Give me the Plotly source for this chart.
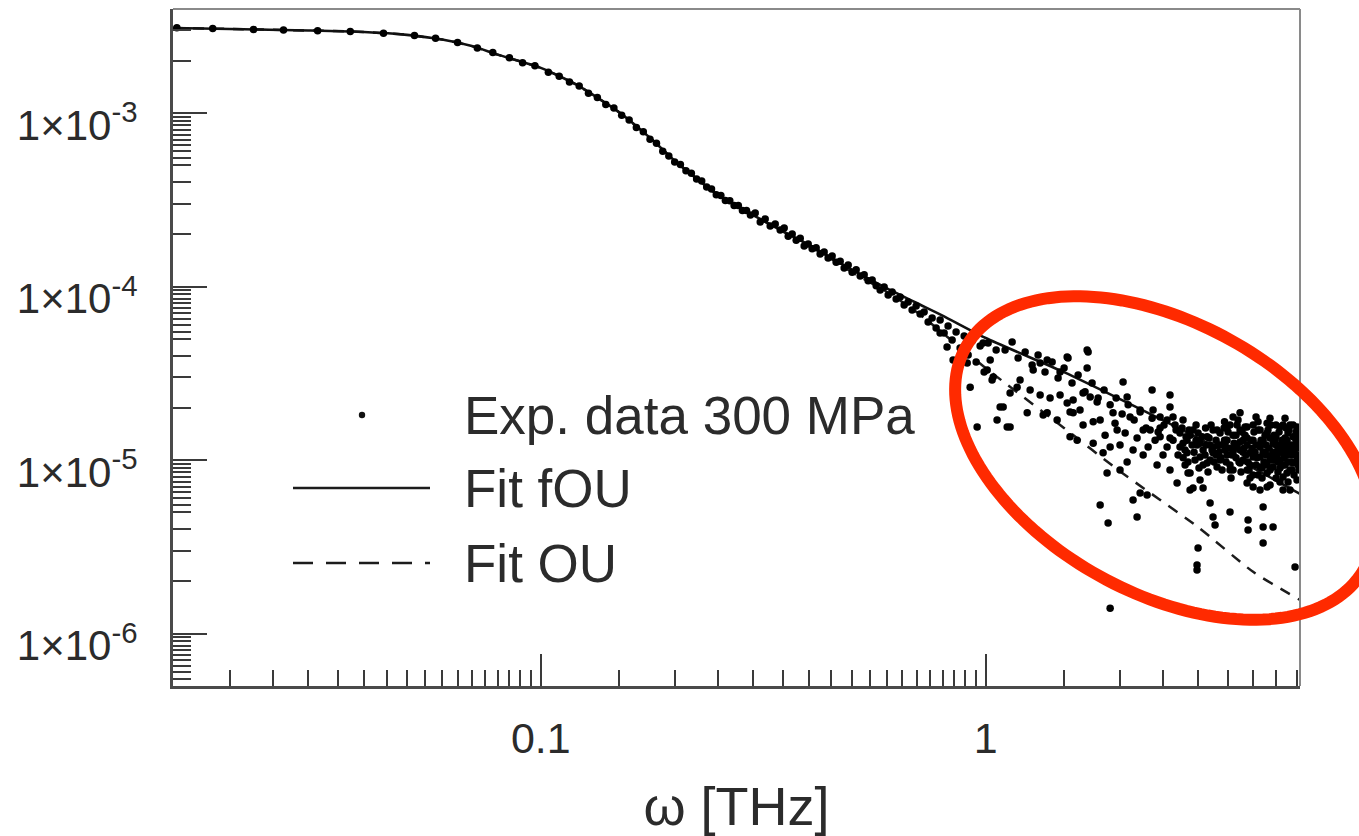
import numpy as np
import plotly.graph_objects as go

# ---------------- data ----------------
# fit curves
fit_w = [0.0149, 0.02, 0.03, 0.04, 0.05, 0.06, 0.07, 0.08, 0.1, 0.12, 0.15, 0.18, 0.2, 0.25,
         0.3, 0.35, 0.4, 0.5, 0.6, 0.7, 0.8, 1.0, 1.5, 2.0, 3.0, 4.0, 5.09]
fit_fou = [3.09e-3, 3.05e-3, 2.99e-3, 2.93e-3, 2.82e-3, 2.65e-3, 2.43e-3, 2.17e-3, 1.82e-3,
           1.46e-3, 1.01e-3, 6.83e-4, 5.30e-4, 3.38e-4, 2.58e-4, 2.08e-4, 1.74e-4, 1.25e-4,
           9.76e-5, 8.03e-5, 6.80e-5, 5.05e-5, 3.21e-5, 2.25e-5, 1.34e-5, 8.99e-6, 6.37e-6]
fit_ou = [3.09e-3, 3.05e-3, 2.99e-3, 2.93e-3, 2.82e-3, 2.65e-3, 2.43e-3, 2.17e-3, 1.82e-3,
          1.46e-3, 1.01e-3, 6.83e-4, 5.30e-4, 3.38e-4, 2.58e-4, 2.08e-4, 1.74e-4, 1.21e-4,
          9.30e-5, 7.13e-5, 5.40e-5, 3.39e-5, 1.53e-5, 8.64e-6, 4.11e-6, 2.26e-6, 1.56e-6]

# experimental data, low frequency part
low_w = [0.0152, 0.0183, 0.0226, 0.0264, 0.0315, 0.0373, 0.0443, 0.052, 0.058, 0.065,
         0.072, 0.078, 0.085, 0.091, 0.097, 0.104, 0.110, 0.116, 0.122, 0.128,
         0.134, 0.140, 0.146, 0.152, 0.158, 0.164, 0.170, 0.176, 0.182, 0.188,
         0.194, 0.200, 0.206, 0.212, 0.218, 0.224, 0.230, 0.236, 0.242, 0.248,
         0.254, 0.260, 0.266, 0.272, 0.278, 0.284, 0.290, 0.296]
low_s = [3.10e-3, 3.07e-3, 3.03e-3, 3.01e-3, 2.98e-3, 2.95e-3, 2.88e-3, 2.80e-3, 2.70e-3, 2.55e-3,
         2.37e-3, 2.23e-3, 2.08e-3, 1.95e-3, 1.87e-3, 1.72e-3, 1.63e-3, 1.51e-3, 1.43e-3, 1.30e-3,
         1.23e-3, 1.12e-3, 1.07e-3, 9.70e-4, 9.10e-4, 8.25e-4, 7.80e-4, 7.05e-4, 6.70e-4, 6.02e-4,
         5.66e-4, 5.22e-4, 5.05e-4, 4.64e-4, 4.50e-4, 4.17e-4, 4.05e-4, 3.74e-4, 3.65e-4, 3.38e-4,
         3.35e-4, 3.13e-4, 3.12e-4, 2.93e-4, 2.93e-4, 2.74e-4, 2.74e-4, 2.58e-4]

# experimental data, 0.3 - 1 THz band
mid_w = [0.3034, 0.3114, 0.3195, 0.3279, 0.3365, 0.3453, 0.3525, 0.3599, 0.3674, 0.3751,
         0.3830, 0.3909, 0.3991, 0.4074, 0.4159, 0.4246, 0.4335, 0.4425, 0.4518, 0.4613,
         0.4710, 0.4808, 0.4909, 0.5011, 0.5116, 0.5224, 0.5333, 0.5444, 0.5558, 0.5675,
         0.5793, 0.5914, 0.6038, 0.6164, 0.6293, 0.6425, 0.6559, 0.6696, 0.6836, 0.6979,
         0.7125, 0.7273, 0.7426, 0.7581, 0.7739, 0.7901, 0.8066, 0.8234, 0.8407, 0.8582,
         0.8762, 0.8950, 0.9135, 0.9326, 0.9521, 0.9719, 0.9922, 1.013, 1.034, 1.056]
mid_s = [2.65e-4, 2.35e-4, 2.45e-4, 2.23e-4, 2.29e-4, 2.12e-4, 2.17e-4, 1.95e-4, 2.01e-4, 1.85e-4,
         1.90e-4, 1.71e-4, 1.76e-4, 1.65e-4, 1.67e-4, 1.54e-4, 1.58e-4, 1.46e-4, 1.50e-4, 1.38e-4,
         1.40e-4, 1.28e-4, 1.33e-4, 1.21e-4, 1.25e-4, 1.15e-4, 1.17e-4, 1.08e-4, 1.09e-4, 1.01e-4,
         9.55e-5, 9.93e-5, 8.93e-5, 9.30e-5, 8.47e-5, 8.70e-5, 7.82e-5, 8.14e-5, 7.32e-5, 7.72e-5,
         6.94e-5, 7.13e-5, 6.24e-5, 6.58e-5, 5.76e-5, 6.41e-5, 5.40e-5, 5.92e-5, 4.92e-5, 5.47e-5,
         4.42e-5, 5.19e-5, 4.03e-5, 4.85e-5, 3.67e-5, 4.54e-5, 3.21e-5, 4.72e-5, 2.89e-5, 4.31e-5]

# experimental data, points hugging the fOU line 1.1 - 2.7 THz
line_w = [1.106, 1.147, 1.183, 1.227, 1.272, 1.312, 1.360, 1.411, 1.455, 1.501,
          1.564, 1.614, 1.673, 1.735, 1.790, 1.846, 1.905, 1.965, 2.027, 2.091,
          2.157, 2.225, 2.295, 2.367, 2.442, 2.518, 2.597, 2.680, 2.735, 2.343]
line_s = [4.31e-5, 4.79e-5, 3.87e-5, 4.19e-5, 3.53e-5, 4.03e-5, 3.22e-5, 3.67e-5, 2.97e-5, 3.39e-5,
          2.78e-5, 3.09e-5, 2.47e-5, 2.78e-5, 2.28e-5, 2.53e-5, 2.08e-5, 2.28e-5, 1.84e-5, 2.08e-5,
          1.70e-5, 1.94e-5, 1.53e-5, 1.74e-5, 1.45e-5, 1.59e-5, 1.34e-5, 1.49e-5, 1.19e-5, 1.49e-5]

# experimental data, 0.8 - 2.6 THz scatter
scat_w = [0.790, 0.819, 0.845, 0.909, 0.923, 0.957, 0.987, 1.024, 1.008, 1.040,
          1.078, 1.061, 1.118, 1.135, 1.177, 1.240, 1.195, 1.326, 1.375, 1.375,
          1.525, 1.691, 1.691, 1.525, 1.573,
          1.700, 1.532, 1.279, 1.470, 2.037, 2.080, 2.367, 2.597, 2.597, 1.347,
          1.135, 1.095, 1.548, 1.573, 1.656, 1.718, 1.781, 1.745, 1.809, 1.954,
          1.975, 1.548, 1.606, 1.745, 1.837, 1.905, 2.190, 2.145, 2.260, 2.319,
          2.379, 2.467, 2.558, 2.638]
scat_s = [5.40e-5, 4.48e-5, 3.77e-5, 3.62e-5, 2.63e-5, 1.55e-5, 4.72e-5, 3.77e-5, 3.30e-5, 3.01e-5,
          2.02e-5, 1.70e-5, 1.55e-5, 2.43e-5, 2.63e-5, 1.87e-5, 2.89e-5, 3.62e-5, 3.77e-5, 1.87e-5,
          3.92e-5, 4.31e-5, 3.39e-5, 2.13e-5, 1.87e-5,
          4.19e-5, 3.87e-5, 3.30e-5, 3.22e-5, 2.82e-5, 2.31e-5, 2.53e-5, 2.37e-5, 2.02e-5, 1.82e-5,
          1.55e-5, 2.02e-5, 1.89e-5, 2.22e-5, 2.43e-5, 2.31e-5, 2.16e-5, 1.66e-5, 1.70e-5, 1.63e-5,
          1.49e-5, 1.36e-5, 1.30e-5, 1.25e-5, 1.10e-5, 1.19e-5, 1.34e-5, 1.14e-5, 1.07e-5, 1.19e-5,
          1.94e-5, 1.77e-5, 1.70e-5, 1.77e-5]

# experimental data, cluster 2.4 - 5 THz
clus_w = [2.735, 2.836, 2.926, 3.034, 3.147, 3.245, 3.365, 3.489, 3.599, 3.732,
          3.870, 3.993, 4.140, 4.293, 4.428, 4.590, 4.759, 4.910, 5.038, 5.012,
          4.834, 4.293, 3.034, 3.147, 3.245, 3.365, 3.599, 3.732, 3.870, 3.993,
          4.140, 4.293, 4.428, 4.590, 4.759, 4.910, 5.012, 2.881, 3.034, 2.881,
          3.082, 3.870, 3.993, 4.293, 4.662, 2.836, 2.778, 2.638, 2.558, 2.467,
          3.489, 3.599, 3.732, 3.870, 3.993, 4.140, 4.428, 4.590, 4.759, 4.910,
          4.834, 5.012, 3.245, 3.365, 3.489, 3.599, 3.732, 4.140, 4.495, 4.662,
          3.791, 4.097, 4.358, 3.931, 3.543, 3.313, 3.082, 2.956, 2.808, 2.708,
          2.666, 2.778, 2.467, 2.404, 2.260, 2.059, 2.005, 2.112, 2.225, 1.934,
          1.856, 1.656, 1.630, 1.470, 1.448, 1.396, 1.326, 1.259, 2.005, 2.080,
          2.429, 2.505, 2.597, 2.694,
          3.830, 3.931, 4.054, 4.097, 4.205, 4.249, 4.358, 4.473, 4.495, 4.662,
          4.710, 4.784, 4.885, 4.961, 5.038, 5.038, 4.710, 4.358, 4.054, 3.675,
          3.675, 3.444, 3.444, 3.196, 3.122, 2.987, 2.881, 4.662, 4.541, 3.791,
          3.543, 3.452]
clus_s = [1.43e-5, 1.30e-5, 1.49e-5, 1.25e-5, 1.36e-5, 1.19e-5, 1.43e-5, 1.55e-5, 1.77e-5, 1.87e-5,
          1.55e-5, 1.30e-5, 1.19e-5, 1.43e-5, 1.25e-5, 1.55e-5, 1.30e-5, 1.14e-5, 1.19e-5, 1.55e-5,
          1.59e-5, 1.63e-5, 1.04e-5, 9.61e-6, 1.10e-5, 1.00e-5, 1.10e-5, 9.61e-6, 8.76e-6, 1.04e-5,
          9.11e-6, 8.41e-6, 9.11e-6, 1.00e-5, 8.41e-6, 9.61e-6, 7.67e-6, 8.41e-6, 7.67e-6, 6.72e-6,
          6.90e-6, 7.37e-6, 6.99e-6, 6.99e-6, 7.98e-6, 1.10e-5, 1.25e-5, 1.30e-5, 1.19e-5, 1.36e-5,
          1.30e-5, 1.39e-5, 1.49e-5, 1.22e-5, 1.59e-5, 1.49e-5, 1.11e-5, 1.22e-5, 1.07e-5, 1.36e-5,
          8.76e-6, 1.00e-5, 1.49e-5, 1.22e-5, 1.07e-5, 8.76e-6, 1.14e-5, 1.04e-5, 1.36e-5, 1.59e-5,
          1.30e-5, 8.19e-6, 1.00e-5, 1.10e-5, 1.59e-5, 9.11e-6, 1.14e-5, 1.00e-5, 9.36e-6, 1.07e-5,
          1.59e-5, 1.70e-5, 1.53e-5, 1.30e-5, 1.49e-5, 1.43e-5, 1.22e-5, 1.77e-5, 1.89e-5, 1.87e-5,
          1.39e-5, 1.59e-5, 1.94e-5, 2.37e-5, 1.70e-5, 2.28e-5, 2.37e-5, 2.53e-5, 8.76e-6, 9.74e-6,
          9.36e-6, 1.07e-5, 8.76e-6, 7.37e-6,
          1.39e-5, 9.36e-6, 1.22e-5, 1.49e-5, 1.30e-5, 1.11e-5, 1.34e-5, 1.00e-5, 1.59e-5, 1.14e-5,
          9.36e-6, 1.43e-5, 1.07e-5, 1.22e-5, 9.36e-6, 1.39e-5, 1.74e-5, 1.74e-5, 1.77e-5, 1.59e-5,
          1.22e-5, 1.30e-5, 1.66e-5, 1.22e-5, 1.53e-5, 1.22e-5, 1.39e-5, 6.72e-6, 8.53e-6, 1.00e-5,
          9.36e-6, 1.14e-5]

# experimental data, densest part 2.7 - 5 THz
dense_w = [2.764, 2.807, 2.851, 2.911, 2.972, 3.018, 3.066, 3.114, 3.162, 3.212,
           3.262, 3.296, 3.348, 3.400, 3.436, 3.471, 3.526, 3.562, 3.618, 3.655,
           3.693, 3.751, 3.790, 3.830, 3.889, 3.950, 3.991, 4.033, 4.096, 4.160,
           4.182, 4.225, 4.269, 4.314, 4.359, 4.404, 4.450, 4.496, 4.543, 4.590,
           4.638, 4.686, 4.735, 4.784, 4.809, 4.859, 4.910, 4.935, 4.986, 5.038,
           5.064, 5.038, 4.735, 4.496, 4.269, 4.054, 3.849, 3.655, 3.471, 3.296,
           3.130, 2.972, 2.822, 4.834, 4.590, 4.359, 4.139, 3.930]
dense_s = [1.53e-5, 1.14e-5, 9.74e-6, 1.22e-5, 1.59e-5, 8.99e-6, 1.36e-5, 1.07e-5, 8.53e-6, 1.59e-5,
           9.74e-6, 1.30e-5, 1.11e-5, 8.76e-6, 1.53e-5, 9.74e-6, 1.17e-5, 7.88e-6, 1.25e-5, 1.03e-5,
           1.70e-5, 8.53e-6, 1.11e-5, 1.55e-5, 9.74e-6, 1.30e-5, 8.19e-6, 1.11e-5, 1.66e-5, 1.30e-5,
           7.88e-6, 9.74e-6, 1.22e-5, 1.49e-5, 8.76e-6, 1.07e-5, 1.39e-5, 7.88e-6, 1.14e-5, 8.99e-6,
           1.30e-5, 1.03e-5, 1.53e-5, 7.46e-6, 1.19e-5, 9.74e-6, 1.59e-5, 8.19e-6, 1.30e-5, 1.07e-5,
           8.76e-6, 1.53e-5, 1.22e-5, 1.22e-5, 1.07e-5, 9.36e-6, 1.07e-5, 1.39e-5, 1.30e-5, 1.07e-5,
           1.22e-5, 1.30e-5, 1.36e-5, 6.72e-6, 7.46e-6, 7.18e-6, 6.72e-6, 7.88e-6]

# experimental data, core of the black band 2.8 - 5 THz
blob_w = [2.779, 2.866, 2.941, 3.003, 3.082, 3.179, 3.229, 3.313, 3.382, 3.453,
          3.507, 3.580, 3.636, 3.712, 3.771, 3.810, 3.870, 3.910, 3.971, 4.012,
          4.075, 4.118, 4.205, 4.248, 4.293, 4.337, 4.382, 4.428, 4.473, 4.520,
          4.567, 4.614, 4.662, 4.710, 4.760, 4.809, 4.859, 4.885, 4.935, 4.986,
          5.012, 5.064, 5.064, 4.784, 4.543, 4.182, 3.732, 3.543, 3.330, 3.196]
blob_s = [1.03e-5, 1.49e-5, 1.11e-5, 1.43e-5, 9.36e-6, 1.34e-5, 1.14e-5, 1.49e-5, 1.03e-5, 1.22e-5,
          1.45e-5, 1.07e-5, 1.17e-5, 9.74e-6, 1.45e-5, 1.17e-5, 1.34e-5, 8.76e-6, 1.17e-5, 1.45e-5,
          1.03e-5, 1.22e-5, 1.11e-5, 1.39e-5, 9.36e-6, 1.17e-5, 1.59e-5, 1.00e-5, 1.30e-5, 1.07e-5,
          1.45e-5, 1.11e-5, 9.36e-6, 1.34e-5, 1.14e-5, 1.49e-5, 1.22e-5, 8.76e-6, 1.11e-5, 1.45e-5,
          1.17e-5, 1.30e-5, 1.03e-5, 9.74e-6, 9.74e-6, 8.99e-6, 1.27e-5, 8.76e-6, 1.22e-5, 1.00e-5]

# experimental data, low outliers 1.8 - 5 THz
out_w = [1.875, 1.809, 1.885, 2.145, 2.190, 2.225, 2.307, 2.851, 2.926, 3.196,
         3.245, 3.279, 3.543, 3.890, 3.890, 4.205, 4.205, 4.428, 4.205, 3.003,
         2.987, 2.987, 4.961, 1.905]
out_s = [8.41e-6, 5.50e-6, 4.33e-6, 5.88e-6, 4.69e-6, 6.45e-6, 6.29e-6, 8.41e-6, 6.90e-6, 5.65e-6,
         4.69e-6, 4.22e-6, 5.02e-6, 4.51e-6, 3.95e-6, 5.36e-6, 4.11e-6, 4.11e-6, 3.32e-6, 3.11e-6,
         2.48e-6, 2.32e-6, 2.42e-6, 1.40e-6]

x_ticks = [0.1, 1]
x_ticktext = ["0.1", "1"]
y_ticks = [1e-6, 1e-5, 1e-4, 1e-3]
y_ticktext = ["1×10<sup>-6</sup>", "1×10<sup>-5</sup>", "1×10<sup>-4</sup>", "1×10<sup>-3</sup>"]

legend_labels = ["Exp. data 300 MPa", "Fit fOU", "Fit OU"]

# ---------------- figure ----------------
W, H = 1359, 836
ML, MR, MT, MB = 173, 59, 9, 150
PW, PH = W - ML - MR, H - MT - MB

exp_w = low_w + mid_w + line_w + scat_w + clus_w + dense_w + blob_w + out_w
exp_s = low_s + mid_s + line_s + scat_s + clus_s + dense_s + blob_s + out_s

FONT = "Liberation Sans, Arial, Helvetica, sans-serif"
INK = "#2b2b2b"

fig = go.Figure()
fig.add_trace(go.Scatter(x=fit_w, y=fit_ou, mode="lines", name=legend_labels[2],
                         line=dict(color="#1c1c1c", width=2.5, dash="11px,9px",
                                   shape="spline", smoothing=0.6), showlegend=False))
fig.add_trace(go.Scatter(x=fit_w, y=fit_fou, mode="lines", name=legend_labels[1],
                         line=dict(color="#111111", width=2.6, shape="spline", smoothing=0.6),
                         showlegend=False))
fig.add_trace(go.Scatter(x=exp_w, y=exp_s, mode="markers", name=legend_labels[0],
                         marker=dict(color="#000000", size=7.5, line=dict(width=0)),
                         showlegend=False))

# minor tick positions
x_minor = ([round(0.005 * k, 4) for k in range(4, 20)] +
           [round(0.05 * k, 3) for k in range(3, 20)] +
           [round(0.5 * k, 2) for k in range(3, 11)])
mults = [2, 3, 4, 5, 5.5, 6, 6.5, 7, 7.5, 8, 8.5, 9, 9.5]
y_minor = [m * 10.0 ** e for e in range(-7, -2) for m in mults]

fig.update_xaxes(
    type="log", range=[np.log10(0.0149), np.log10(5.09)],
    tickmode="array", tickvals=x_ticks, ticktext=x_ticktext,
    ticks="inside", ticklen=32, tickwidth=2, tickcolor="#3a3a3a",
    showline=True, linecolor="#4a4a4a", linewidth=3, mirror=False,
    showgrid=False, zeroline=False,
    tickfont=dict(family=FONT, size=43, color=INK), ticklabelstandoff=12,
    minor=dict(tickmode="array", tickvals=x_minor, ticks="inside", ticklen=16,
               tickwidth=2, tickcolor="#3a3a3a", showgrid=False),
    title=dict(text="ω [THz]", font=dict(family=FONT, size=54, color=INK), standoff=30),
)
fig.update_yaxes(
    type="log", range=[-6.3026, -2.4006],
    tickmode="array", tickvals=y_ticks, ticktext=y_ticktext,
    ticks="inside", ticklen=34, tickwidth=2, tickcolor="#3a3a3a",
    showline=True, linecolor="#4a4a4a", linewidth=3, mirror=False,
    showgrid=False, zeroline=False,
    tickfont=dict(family=FONT, size=42, color=INK), ticklabelstandoff=24,
    ticklabelshift=12,
    minor=dict(tickmode="array", tickvals=y_minor, ticks="inside", ticklen=18,
               tickwidth=2, tickcolor="#3a3a3a", showgrid=False),
)

shapes = []
# top and right frame lines (lighter)
shapes.append(dict(type="line", xref="paper", yref="paper", x0=0, x1=1, y0=1, y1=1,
                   line=dict(color="#8a8a8a", width=2)))
shapes.append(dict(type="line", xref="paper", yref="paper", x0=1, x1=1, y0=0, y1=1,
                   line=dict(color="#8a8a8a", width=2)))


def px_to_paper(px, py):
    return (px - ML) / PW, (H - MB - py) / PH


# manual legend (long line samples like the original)
leg_x0, leg_x1, leg_text_x = 293, 430, 462
leg_rows = [415, 488, 563]
dx, dy = px_to_paper(362, leg_rows[0])
shapes.append(dict(type="circle", xref="paper", yref="paper", xsizemode="pixel", ysizemode="pixel",
                   xanchor=dx, yanchor=dy, x0=-3.2, x1=3.2, y0=-3.2, y1=3.2,
                   fillcolor="#111111", line=dict(width=0)))
for row, dash in ((leg_rows[1], "solid"), (leg_rows[2], "20px,13px")):
    a0, b0 = px_to_paper(leg_x0, row)
    a1, _ = px_to_paper(leg_x1, row)
    shapes.append(dict(type="line", xref="paper", yref="paper", x0=a0, x1=a1, y0=b0, y1=b0,
                       line=dict(color="#1c1c1c", width=2.6, dash=dash)))

annotations = []
for label, row in zip(legend_labels, leg_rows):
    ax, ay = px_to_paper(leg_text_x, row)
    annotations.append(dict(text=label, xref="paper", yref="paper", x=ax, y=ay,
                            xanchor="left", yanchor="middle", showarrow=False,
                            font=dict(family=FONT, size=53, color=INK)))

# red highlight ellipse (annotation overlay), in pixel geometry
E_CX, E_CY, E_A, E_B, E_ANG = 1165, 458, 228, 135, np.deg2rad(29)
t = np.linspace(0, 2 * np.pi, 181)
ex = E_CX + E_A * np.cos(t) * np.cos(E_ANG) - E_B * np.sin(t) * np.sin(E_ANG)
ey = E_CY + E_A * np.cos(t) * np.sin(E_ANG) + E_B * np.sin(t) * np.cos(E_ANG)
pts = [px_to_paper(a, b) for a, b in zip(ex, ey)]
path = "M " + " L ".join(f"{a:.5f},{b:.5f}" for a, b in pts) + " Z"
shapes.append(dict(type="path", xref="paper", yref="paper", path=path,
                   line=dict(color="#ff2a00", width=12), fillcolor="rgba(0,0,0,0)"))

fig.update_layout(
    width=W, height=H,
    margin=dict(l=ML, r=MR, t=MT, b=MB, autoexpand=False),
    paper_bgcolor="white", plot_bgcolor="white",
    font=dict(family=FONT, color=INK),
    shapes=shapes, annotations=annotations,
    showlegend=False,
)

fig.write_html("out.html")
